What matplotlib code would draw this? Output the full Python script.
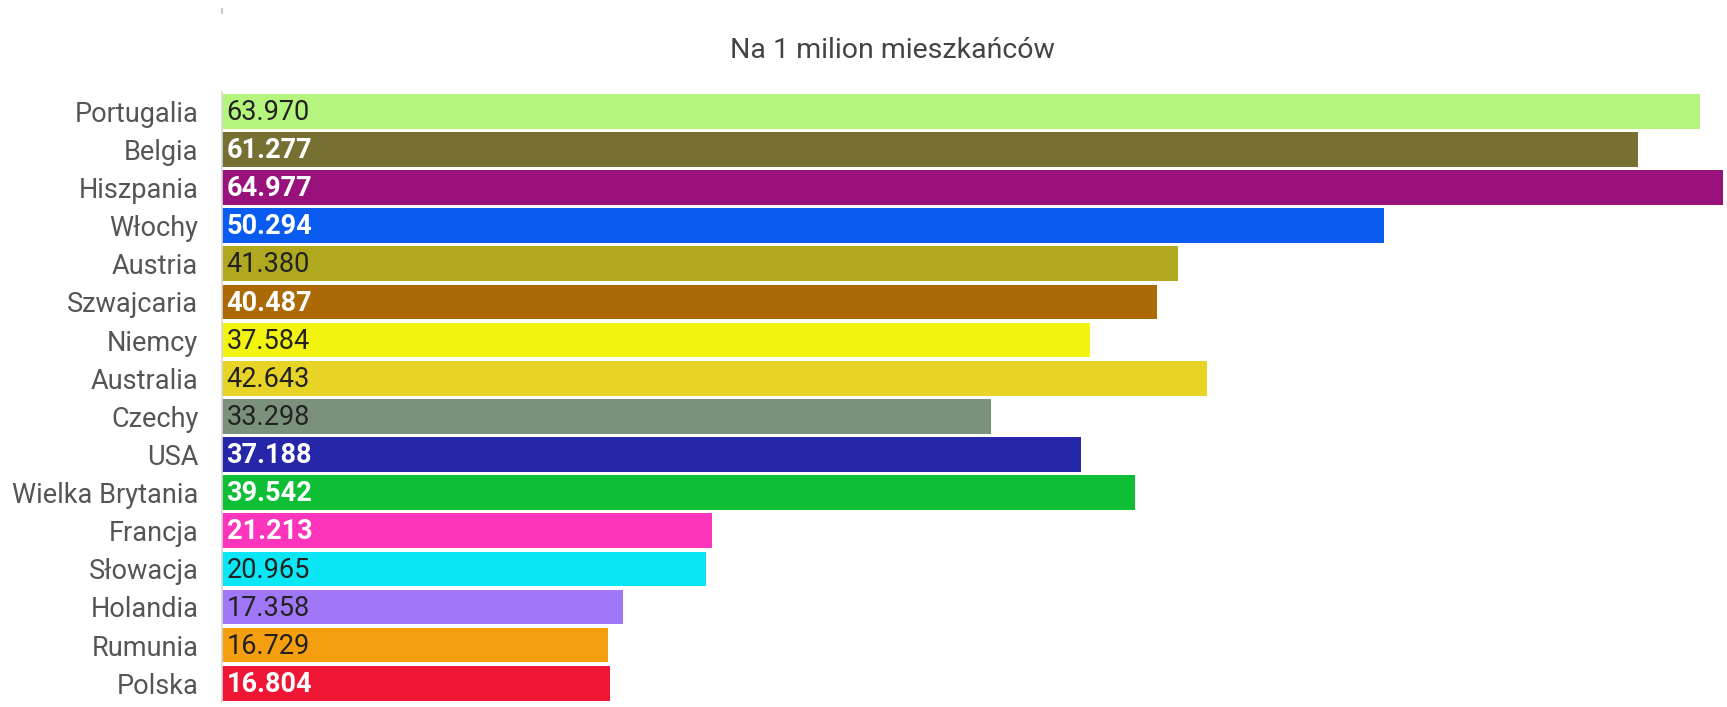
"""Horizontal bar chart: values per 1 million inhabitants by country."""
import matplotlib

matplotlib.use("Agg")
import matplotlib.pyplot as plt  # noqa: E402
from matplotlib.lines import Line2D  # noqa: E402

plt.rcParams["font.family"] = ["Roboto", "DejaVu Sans"]

TITLE = "Na 1 milion mieszkańców"

countries = [
    "Portugalia", "Belgia", "Hiszpania", "Włochy", "Austria", "Szwajcaria",
    "Niemcy", "Australia", "Czechy", "USA", "Wielka Brytania", "Francja",
    "Słowacja", "Holandia", "Rumunia", "Polska",
]
values = [
    63.970, 61.277, 64.977, 50.294, 41.380, 40.487,
    37.584, 42.643, 33.298, 37.188, 39.542, 21.213,
    20.965, 17.358, 16.729, 16.804,
]
colors = [
    "#b5f57d", "#767033", "#99127b", "#0a5cf0", "#b0a81e", "#ab6a04",
    "#f3f310", "#e8d427", "#7b917b", "#2626a8", "#0ebf36", "#fd35bd",
    "#0be6f4", "#9f77f7", "#f59e0f", "#ef1535",
]
# True -> white (bold) value label, False -> dark label
white_label = [
    False, True, True, True, False, True,
    False, False, False, True, True, True,
    False, False, False, True,
]

fig = plt.figure(figsize=(17.27, 7.07), dpi=100)
ax = fig.add_axes([0.1285, 0.0066, 0.8692, 0.863])

ypos = list(range(len(countries)))
ax.barh(ypos, values, height=0.91, color=colors, linewidth=0)
ax.set_ylim(len(countries) - 0.5, -0.5)
ax.set_xlim(0, max(values))

ax.set_yticks(ypos)
ax.set_yticklabels(countries, fontsize=19.5, color="#555555")
ax.tick_params(axis="y", length=0, pad=17)
ax.set_xticks([])

for side in ("top", "right", "bottom"):
    ax.spines[side].set_visible(False)
ax.spines["left"].set_color("#d8d8d8")
ax.spines["left"].set_linewidth(1.2)

for y, v, w in zip(ypos, values, white_label):
    label = f"{v:.3f}"
    ax.text(0.2, y + 0.03, label, va="center", ha="left", fontsize=19.5,
            color="white" if w else "#222222",
            fontweight="bold" if w else "normal")

fig.text(0.517, 0.928, TITLE, ha="center", va="center", fontsize=20.5,
         color="#444444")

# small tick mark above the axis
fig.add_artist(Line2D([0.1285, 0.1285], [0.982, 0.987], color="#bbbbbb",
                      linewidth=1.2, transform=fig.transFigure))

fig.savefig("out.png", dpi=100)
plt.close(fig)
